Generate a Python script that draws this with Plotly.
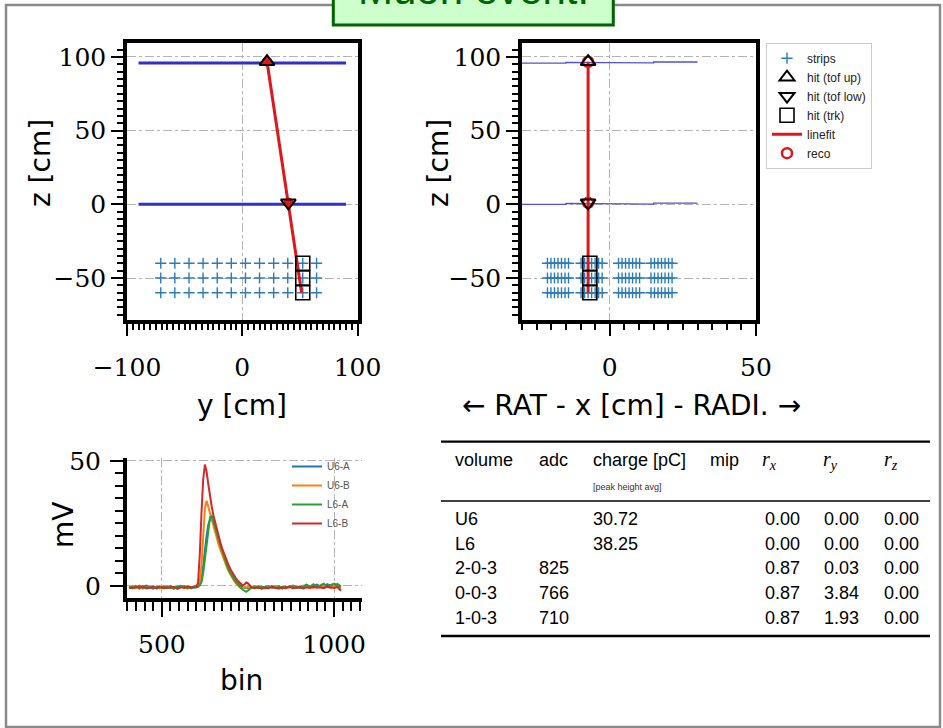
import plotly.graph_objects as go

W, H = 943, 728

def px(x):
    return x / W

def py(y):
    return 1 - y / H

# ---------------- data ----------------
# top panels: strips, hits, fit
strip_y_p1 = [-70.7, -58.5, -46.2, -34.0, -21.7, -9.5, 2.8, 15.0, 27.3, 39.5, 52.5, 64.5]
strip_x_p2 = [-21.3, -20.1, -18.9, -17.7, -16.5, -15.3, -14.1,
              -9.8, -8.6, -7.4, -6.2, -5.0, -3.8, -2.6,
              3.0, 4.2, 5.4, 6.6, 7.8, 9.0, 10.2,
              14.1, 15.3, 16.5, 17.7, 18.9, 20.1, 21.3]
strip_z = [-40, -50, -60]

tof_up_z = 96.8
tof_low_z = 1.0
hit_up_y = 21.5
hit_low_y = 40.0
hit_x = -7.4
trk_y = 52.5
trk_x = -6.8
trk_z = [-40, -50, -60]
fit_y = [21.5, 51.5]
fit_x = [-7.4, -7.4]
fit_z = [96.8, -60.0]

p1_plane_y = [-90, 90]
p1_plane_up_z = [96, 96]
p1_plane_low_z = [0, 0]
p2_plane_x = [-30, -15, -15, 0, 0, 15, 15, 30]
p2_plane_up_z = [95.8, 95.8, 96.4, 96.4, 96.0, 96.0, 96.6, 96.6]
p2_plane_low_z = [0.0, 0.0, 0.6, 0.6, 0.2, 0.2, 0.8, 0.8]

# bottom panel: waveforms
bins = [405, 415, 425, 435, 445, 455, 465, 475, 485, 495, 505, 515, 525, 535, 545, 555, 565, 575, 585, 595,
        600, 605, 610, 615, 620, 625, 630, 635, 640, 645, 650, 655, 660, 665, 670, 675, 680, 685, 690, 695,
        700, 705, 710, 715, 720, 725, 730, 735, 740, 745, 750, 755, 760,
        770, 780, 790, 800, 810, 820, 830, 840, 850, 860, 870, 880, 890, 900, 910, 920, 930, 940, 950, 960,
        970, 980, 990, 1000, 1010, 1020]
u6a = [-0.4, -0.9, -0.2, -1.1, -0.5, 0.1, -0.7, -1.2, -0.3, -0.8, -0.6, -1.0, -0.2, -0.9, -0.4, 0.0, -0.8, -0.5, -1.1, -0.3,
       -0.5, -0.2, 0.3, 2.0, 7.0, 14.0, 20.0, 24.5, 26.5, 26.8, 24.8, 22.4, 20.0, 17.8, 15.6, 13.4, 11.5, 9.6, 7.9, 6.4,
       5.0, 3.8, 2.8, 1.9, 1.1, 0.4, -0.1, -0.6, -0.9, -0.7, -1.0, -0.6, -0.4,
       -0.8, -0.3, -1.0, -0.5, -0.1, -0.9, -0.6, -0.2, -1.1, -0.4, -0.7, 0.1, -0.5, -0.9, -0.3, 0.4, -0.6, -0.2, 0.5, -0.4,
       -0.8, 0.6, 0.2, -0.5, 0.7, -0.3]
u6b = [-0.7, -0.3, -1.0, -0.6, -1.2, -0.4, -0.9, -0.2, -0.8, -1.1, -0.5, -0.1, -0.9, -0.6, -1.0, -0.3, -0.7, -1.2, -0.4, -0.6,
       -0.6, -0.1, 1.5, 8.0, 21.0, 31.0, 34.0, 31.5, 28.5, 25.5, 23.0, 20.8, 18.6, 16.4, 14.3, 12.3, 10.4, 8.6, 7.0, 5.5,
       4.2, 3.0, 1.9, 1.0, 0.2, -0.4, -0.9, -0.6, -0.5, -0.8, -0.4, -0.9, -0.5,
       -0.2, -0.9, -0.5, -1.1, -0.3, -0.7, -0.1, -0.8, -0.4, -1.0, -0.6, -0.2, -0.9, -0.5, 0.1, -0.7, -0.3, -0.9, -0.1,
       -0.6, 0.2, -0.4, -0.8, -0.2, -0.6, -1.0]
l6a = [-0.9, -0.4, -0.7, 0.0, -1.0, -0.5, -0.8, -0.3, -1.1, -0.6, -0.2, -0.9, -0.5, -1.2, -0.4, -0.7, -0.1, -0.9, -0.6, -0.8,
       -0.7, -0.4, 0.2, 1.5, 5.0, 11.0, 18.0, 24.0, 27.5, 27.9, 25.8, 23.2, 20.7, 18.2, 15.9, 13.6, 11.5, 9.5, 7.7, 6.1,
       4.7, 3.5, 2.4, 1.4, 0.5, -0.3, -1.0, -1.6, -2.1, -2.4, -1.9, -1.3, -0.9,
       -0.5, -1.0, -0.3, -0.8, -0.6, -0.1, -0.9, -0.4, -0.7, -1.1, -0.2, -0.6, -0.9, -0.3, -0.5, 0.3, -0.4, 0.6, -0.2,
       0.1, 0.8, -0.3, 0.4, 0.9, 0.2, -0.4]
l6b = [-0.6, -1.0, -0.4, -0.8, -0.2, -1.1, -0.7, -0.5, -0.9, -0.3, -1.0, -0.6, -0.8, -0.4, -1.2, -0.5, -0.9, -0.3, -0.7, -0.5,
       -0.3, 1.0, 12.0, 29.0, 42.5, 48.5, 45.5, 40.5, 35.5, 31.5, 28.0, 25.0, 22.2, 19.6, 17.2, 15.0, 13.0, 11.1, 9.4, 7.8,
       6.4, 5.1, 4.0, 3.0, 2.1, 1.3, 0.6, 0.1, 0.6, 1.3, 1.0, 0.2, -0.6,
       -1.0, -0.5, -1.2, -0.7, -1.0, -0.4, -0.9, -1.1, -0.6, -0.8, -0.3, -1.0, -0.7, -0.5, -1.1, -0.6, -0.9, -0.4, -0.8,
       -0.6, -1.0, -0.3, -0.7, -0.9, -0.5, -2.0]
wave_names = ["U6-A", "U6-B", "L6-A", "L6-B"]
wave_colors = ["#1f77b4", "#ff7f0e", "#2ca02c", "#d62728"]

# table
tab_headers = ["volume", "adc", "charge [pC]", "mip", "<i>r<sub>x</sub></i>", "<i>r<sub>y</sub></i>", "<i>r<sub>z</sub></i>"]
tab_volume = ["U6", "L6", "2-0-3", "0-0-3", "1-0-3"]
tab_adc = ["", "", "825", "766", "710"]
tab_charge = ["30.72", "38.25", "", "", ""]
tab_mip = ["", "", "", "", ""]
tab_rx = [0.00, 0.00, 0.87, 0.87, 0.87]
tab_ry = [0.00, 0.00, 0.03, 3.84, 1.93]
tab_rz = [0.00, 0.00, 0.00, 0.00, 0.00]

# ---------------- styles ----------------
RED = "#e0161b"
BLUE_P1 = "#3030cc"
BLUE_P2 = "#5050dd"
STRIP_C = "#2b7bba"
SERIF = "DejaVu Serif"
SANS = "DejaVu Sans"
TSANS = "Liberation Sans"

fig = go.Figure()

# ---- panel 1 (y-z) ----
sy, sz = [], []
for z in strip_z:
    for y in strip_y_p1:
        sy.append(y)
        sz.append(z)
fig.add_trace(go.Scatter(x=sy, y=sz, mode="markers", xaxis="x", yaxis="y", showlegend=False,
                         marker=dict(symbol="cross-thin", size=8, line=dict(width=1.4, color=STRIP_C))))
for zz in (p1_plane_up_z, p1_plane_low_z):
    fig.add_trace(go.Scatter(x=p1_plane_y, y=zz, mode="lines", xaxis="x", yaxis="y", showlegend=False,
                             line=dict(color=BLUE_P1, width=3)))
fig.add_trace(go.Scatter(x=fit_y, y=fit_z, mode="lines", xaxis="x", yaxis="y", showlegend=False,
                         line=dict(color=RED, width=3)))
fig.add_trace(go.Scatter(x=[trk_y] * len(trk_z), y=trk_z, mode="markers", xaxis="x", yaxis="y", showlegend=False,
                         marker=dict(symbol="square-open", size=14, color="black", line=dict(width=1.6))))
fig.add_trace(go.Scatter(x=[hit_up_y, hit_low_y], y=[tof_up_z, tof_low_z], mode="markers", xaxis="x", yaxis="y",
                         showlegend=False, marker=dict(symbol="circle", size=10, color=RED)))
fig.add_trace(go.Scatter(x=[hit_up_y], y=[tof_up_z], mode="markers", xaxis="x", yaxis="y", showlegend=False,
                         marker=dict(symbol="triangle-up-open", size=13, color="black", line=dict(width=2))))
fig.add_trace(go.Scatter(x=[hit_low_y], y=[tof_low_z], mode="markers", xaxis="x", yaxis="y", showlegend=False,
                         marker=dict(symbol="triangle-down-open", size=13, color="black", line=dict(width=2))))

# ---- panel 2 (x-z) with legend ----
sx2, sz2 = [], []
for z in strip_z:
    for x in strip_x_p2:
        sx2.append(x)
        sz2.append(z)
fig.add_trace(go.Scatter(x=sx2, y=sz2, mode="markers", xaxis="x2", yaxis="y2", name="strips", legendrank=1,
                         marker=dict(symbol="cross-thin", size=8, line=dict(width=1.4, color=STRIP_C))))
for zz in (p2_plane_up_z, p2_plane_low_z):
    fig.add_trace(go.Scatter(x=p2_plane_x, y=zz, mode="lines", xaxis="x2", yaxis="y2", showlegend=False,
                             line=dict(color=BLUE_P2, width=1.3)))
fig.add_trace(go.Scatter(x=fit_x, y=fit_z, mode="lines", xaxis="x2", yaxis="y2", name="linefit", legendrank=5,
                         line=dict(color=RED, width=3)))
fig.add_trace(go.Scatter(x=[trk_x] * len(trk_z), y=trk_z, mode="markers", xaxis="x2", yaxis="y2",
                         name="hit (trk)", legendrank=4,
                         marker=dict(symbol="square-open", size=14, color="black", line=dict(width=1.6))))
fig.add_trace(go.Scatter(x=[hit_x, hit_x], y=[tof_up_z, tof_low_z], mode="markers", xaxis="x2", yaxis="y2",
                         name="reco", legendrank=6,
                         marker=dict(symbol="circle-open", size=10, color=RED, line=dict(width=2.5))))
fig.add_trace(go.Scatter(x=[hit_x], y=[tof_up_z], mode="markers", xaxis="x2", yaxis="y2",
                         name="hit (tof up)", legendrank=2,
                         marker=dict(symbol="triangle-up-open", size=13, color="black", line=dict(width=2))))
fig.add_trace(go.Scatter(x=[hit_x], y=[tof_low_z], mode="markers", xaxis="x2", yaxis="y2",
                         name="hit (tof low)", legendrank=3,
                         marker=dict(symbol="triangle-down-open", size=13, color="black", line=dict(width=2))))

# ---- panel 3 waveforms ----
for name, col, vals in zip(wave_names, wave_colors, [u6a, u6b, l6a, l6b]):
    fig.add_trace(go.Scatter(x=bins, y=vals, mode="lines", name=name, xaxis="x3", yaxis="y3",
                             legend="legend2", line=dict(color=col, width=2)))


def axis(domain, rng, dtick, minor_dtick, anchor, mirror=True, ticklen=12, minorlen=6, standoff=0):
    return dict(domain=domain, range=rng, anchor=anchor, showline=True, linewidth=3.5, linecolor="black",
                mirror=mirror, ticks="outside", ticklen=ticklen, tickwidth=2, tickcolor="black",
                tick0=0, dtick=dtick, showgrid=True, gridcolor="#b4b4b4", griddash="dashdot", gridwidth=1,
                zeroline=False, automargin=False, tickfont=dict(family=SERIF, size=25, color="black"),
                ticklabelstandoff=standoff,
                minor=dict(ticks="outside", ticklen=minorlen, tickwidth=1.5, tickcolor="black",
                           tick0=0, dtick=minor_dtick, showgrid=False))


fig.update_layout(
    width=W, height=H, margin=dict(l=0, r=0, t=0, b=0, pad=0, autoexpand=False),
    paper_bgcolor="white", plot_bgcolor="white",
    xaxis=axis([px(127), px(357.5)], [-100, 100], 100, 5, "y", standoff=10),
    yaxis=axis([py(320), py(42.7)], [-78.5, 109.7], 50, 5, "x"),
    xaxis2=axis([px(522), px(756)], [-30, 50], 50, 5, "y2", standoff=10),
    yaxis2=axis([py(320), py(42.7)], [-78.5, 109.7], 50, 5, "x2"),
    xaxis3=axis([px(126.7), px(362)], [398, 1081], 500, 25, "y3", mirror=False, ticklen=15, minorlen=9,
                standoff=6),
    yaxis3=axis([py(598), py(458)], [-4.9, 51.1], 50, 5, "x3", mirror=False, ticklen=13, minorlen=8,
                standoff=4),
    legend=dict(x=px(766), y=py(42.7), xanchor="left", yanchor="top", bgcolor="white",
                bordercolor="#cccccc", borderwidth=1, tracegroupgap=0,
                font=dict(family=TSANS, size=12, color="#222")),
    legend2=dict(x=px(287), y=py(452), xanchor="left", yanchor="top", bgcolor="rgba(0,0,0,0)",
                 borderwidth=0, font=dict(family=TSANS, size=10, color="#555")),
)

# ---- frame and title box ----
shapes = [
    dict(type="rect", xref="paper", yref="paper", x0=px(6), x1=px(940), y0=py(727), y1=py(5),
         line=dict(color="#8a8a8a", width=2.5), fillcolor="rgba(0,0,0,0)", layer="below"),
    dict(type="rect", xref="paper", yref="paper", x0=px(333.3), x1=px(613.3), y0=py(25), y1=py(-12),
         line=dict(color="#006400", width=3), fillcolor="#ccffcc"),
    # table rules
    dict(type="line", xref="paper", yref="paper", x0=px(441), x1=px(930), y0=py(441.7), y1=py(441.7),
         line=dict(color="black", width=2.3)),
    dict(type="line", xref="paper", yref="paper", x0=px(441), x1=px(930), y0=py(501), y1=py(501),
         line=dict(color="black", width=1.6)),
    dict(type="line", xref="paper", yref="paper", x0=px(441), x1=px(930), y0=py(636), y1=py(636),
         line=dict(color="black", width=2.3)),
]
fig.update_layout(shapes=shapes)

ann = []


def text(x, y, s, size, family=SANS, color="black", xanchor="center", angle=0):
    ann.append(dict(x=px(x), y=py(y), xref="paper", yref="paper", text=s, showarrow=False,
                    xanchor=xanchor, yanchor="middle", textangle=angle,
                    font=dict(family=family, size=size, color=color)))


text(473, -11, "Muon event!", 42, family="Liberation Sans", color="#006400")
# axis titles
text(40, 163, "z [cm]", 28, angle=-90)
text(242, 405, "y [cm]", 28)
text(438, 163, "z [cm]", 28, angle=-90)
text(631, 405, "\u2190 RAT - x [cm] - RADI. \u2192", 28)
text(63, 525, "mV", 28, angle=-90)
text(242, 680, "bin", 28)

# table
col_x = [453.3, 536.7, 590.7, 708.3, 760, 820.7, 881.7]
for cx, h in zip(col_x, tab_headers):
    if h.startswith("<i>"):
        text(cx, 460, h, 20, family="Liberation Serif", xanchor="left")
    else:
        text(cx, 460, h, 18, family=TSANS, xanchor="left")
text(590.7, 487.5, "[peak height avg]", 9, family=TSANS, color="#333", xanchor="left")
row_y = [519.3, 544.3, 568.3, 593.3, 618.3]
num_x = [763.3, 821.7, 881.7]
for i, ry in enumerate(row_y):
    text(col_x[0], ry, tab_volume[i], 18, family=TSANS, xanchor="left")
    if tab_adc[i]:
        text(col_x[1], ry, tab_adc[i], 18, family=TSANS, xanchor="left")
    if tab_charge[i]:
        text(col_x[2], ry, tab_charge[i], 18, family=TSANS, xanchor="left")
    if tab_mip[i]:
        text(col_x[3], ry, tab_mip[i], 18, family=TSANS, xanchor="left")
    for nx, arr in zip(num_x, [tab_rx, tab_ry, tab_rz]):
        text(nx, ry, "%.2f" % arr[i], 18, family=TSANS, xanchor="left")

fig.update_layout(annotations=ann)

fig.write_html("out.html", config={"displayModeBar": False},
               post_script="document.body.style.margin='0px';")
